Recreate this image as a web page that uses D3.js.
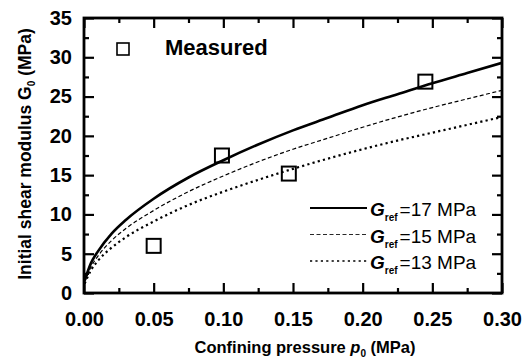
<!DOCTYPE html>
<html>
<head>
<meta charset="utf-8">
<script src="https://cdn.jsdelivr.net/npm/d3@7"></script>
<style>
    body { margin: 0; background: #ffffff; }
    svg { display: block; font-family: "Liberation Sans", Arial, sans-serif; }
</style>
</head>
<body>
<div id="chart"></div>
<script>
// measured points
var measP = [0.05, 0.099, 0.147, 0.245];
var measG = [6.0, 17.5, 15.2, 26.9];
// fitted curves, values
var curveP = [0.0005, 0.005, 0.01, 0.02, 0.03, 0.05, 0.075, 0.1, 0.125, 0.15, 0.175, 0.2, 0.225, 0.25, 0.275, 0.3];
var g17 = [1.6, 3.8, 5.3, 7.6, 9.3, 12.0, 14.7, 16.9, 18.9, 20.7, 22.3, 23.9, 25.3, 26.7, 28.0, 29.3];
var g15 = [1.4, 3.3, 4.7, 6.7, 8.2, 10.5, 12.9, 14.9, 16.7, 18.3, 19.7, 21.1, 22.4, 23.6, 24.7, 25.8];
var g13 = [1.2, 2.9, 4.1, 5.8, 7.1, 9.1, 11.2, 12.9, 14.4, 15.8, 17.1, 18.3, 19.4, 20.4, 21.4, 22.4];
var refLabels = ['=17 MPa', '=15 MPa', '=13 MPa'];
var xTicks = [0, 0.05, 0.1, 0.15, 0.2, 0.25, 0.3];
var yTicks = [0, 5, 10, 15, 20, 25, 30, 35];

drawChart('chart');

function drawChart(divName) {
    var width = 530, height = 361;
    var m = {left: 84, right: 28, top: 18, bottom: 68};
    var svg = d3.select('#' + divName).append('svg')
        .attr('width', width)
        .attr('height', height);

    var x = d3.scaleLinear().domain([0, 0.3]).range([m.left, width - m.right]);
    var y = d3.scaleLinear().domain([0, 35]).range([height - m.bottom, m.top]);
    var x0 = m.left, x1 = width - m.right, y0 = height - m.bottom, y1 = m.top;

    var xMinor = d3.range(0.025, 0.3, 0.05);
    var yMinor = d3.range(2.5, 35, 5);

    // clip for the curves
    svg.append('clipPath').attr('id', 'clip')
        .append('rect')
        .attr('x', x0).attr('y', y1)
        .attr('width', x1 - x0).attr('height', y0 - y1);

    //curves
    var series = [
        {v: g17, w: 2.6, dash: null},
        {v: g15, w: 1.2, dash: '4,2.5'},
        {v: g13, w: 2.2, dash: '2.2,3.2'}
    ];
    var line = d3.line()
        .x(function (d, i) { return x(curveP[i]); })
        .y(function (d) { return y(d); })
        .curve(d3.curveMonotoneX);
    svg.append('g').attr('clip-path', 'url(#clip)')
        .selectAll('path')
        .data(series)
        .enter()
        .append('path')
        .attr('d', function (d) { return line(d.v); })
        .attr('fill', 'none')
        .attr('stroke', '#000')
        .attr('stroke-width', function (d) { return d.w; })
        .attr('stroke-dasharray', function (d) { return d.dash; });

    //measured squares
    var sq = 14;
    svg.append('g').selectAll('rect')
        .data(measG)
        .enter()
        .append('rect')
        .attr('x', function (d, i) { return x(measP[i]) - sq / 2; })
        .attr('y', function (d) { return y(d) - sq / 2; })
        .attr('width', sq)
        .attr('height', sq)
        .attr('fill', 'none')
        .attr('stroke', '#000')
        .attr('stroke-width', 2);

    //axes
    function styleAxis(g) {
        g.select('.domain').remove();
        g.selectAll('line').attr('stroke', '#000').attr('stroke-width', 2.2);
        g.selectAll('text')
            .attr('fill', '#000')
            .style('font-size', '20px')
            .style('font-weight', 'bold');
    }
    var ax = [
        {a: d3.axisBottom(x).tickValues(xTicks).tickSize(-10).tickPadding(19).tickFormat(d3.format('.2f')), t: 'translate(0,' + y0 + ')'},
        {a: d3.axisBottom(x).tickValues(xMinor).tickSize(-5).tickFormat(''), t: 'translate(0,' + y0 + ')'},
        {a: d3.axisTop(x).tickValues(xTicks).tickSize(-10).tickFormat(''), t: 'translate(0,' + y1 + ')'},
        {a: d3.axisTop(x).tickValues(xMinor).tickSize(-5).tickFormat(''), t: 'translate(0,' + y1 + ')'},
        {a: d3.axisLeft(y).tickValues(yTicks).tickSize(-10).tickPadding(12).tickFormat(d3.format('d')), t: 'translate(' + x0 + ',0)'},
        {a: d3.axisLeft(y).tickValues(yMinor).tickSize(-5).tickFormat(''), t: 'translate(' + x0 + ',0)'},
        {a: d3.axisRight(y).tickValues(yTicks).tickSize(-10).tickFormat(''), t: 'translate(' + x1 + ',0)'},
        {a: d3.axisRight(y).tickValues(yMinor).tickSize(-5).tickFormat(''), t: 'translate(' + x1 + ',0)'}
    ];
    ax.forEach(function (o) {
        svg.append('g').attr('transform', o.t).call(o.a).call(styleAxis);
    });

    //frame
    svg.append('rect')
        .attr('x', x0).attr('y', y1)
        .attr('width', x1 - x0).attr('height', y0 - y1)
        .attr('fill', 'none')
        .attr('stroke', '#000')
        .attr('stroke-width', 2.8);

    //axis titles
    var xt = svg.append('text')
        .attr('x', 305)
        .attr('y', 353)
        .attr('text-anchor', 'middle')
        .style('font-size', '16.5px')
        .style('font-weight', 'bold');
    xt.append('tspan').text('Confining pressure ');
    xt.append('tspan').style('font-style', 'italic').text('p');
    xt.append('tspan').attr('dy', 4).style('font-size', '10px').text('0');
    xt.append('tspan').attr('dy', -4).text(' (MPa)');

    var yt = svg.append('text')
        .attr('transform', 'translate(31,154) rotate(-90)')
        .attr('text-anchor', 'middle')
        .style('font-size', '17.5px')
        .style('font-weight', 'bold');
    yt.append('tspan').text('Initial shear modulus G');
    yt.append('tspan').attr('dy', 4).style('font-size', '10px').text('0');
    yt.append('tspan').attr('dy', -4).text(' (MPa)');

    //legend: measured
    svg.append('rect')
        .attr('x', 117).attr('y', 43)
        .attr('width', 12).attr('height', 12)
        .attr('fill', 'none')
        .attr('stroke', '#000')
        .attr('stroke-width', 1.6);
    svg.append('text')
        .attr('x', 165).attr('y', 55)
        .style('font-size', '22px')
        .style('font-weight', 'bold')
        .text('Measured');

    //legend: curves
    var lg = svg.append('g').selectAll('g')
        .data(series)
        .enter()
        .append('g')
        .attr('transform', function (d, i) { return 'translate(0,' + (216 + i * 26.5) + ')'; });
    lg.append('line')
        .attr('x1', 310).attr('x2', 367)
        .attr('y1', -8).attr('y2', -8)
        .attr('stroke', '#000')
        .attr('stroke-width', function (d) { return d.w * 0.7; })
        .attr('stroke-dasharray', function (d) { return d.dash; });
    var lt = lg.append('text')
        .attr('x', 370)
        .style('font-size', '19px');
    lt.append('tspan').style('font-style', 'italic').style('font-weight', 'bold').text('G');
    lt.append('tspan').attr('dy', 5).style('font-size', '10px').style('font-weight', 'bold').text('ref');
    lt.append('tspan').attr('dy', -5).attr('dx', 2).text(function (d, i) { return refLabels[i]; });
}
</script>
</body>
</html>
